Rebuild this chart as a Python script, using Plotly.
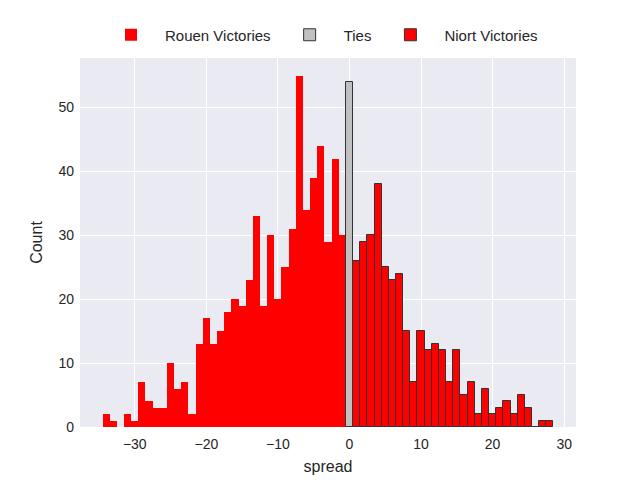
import plotly.graph_objects as go

# Data (spread -> count)
rouen_spread = list(range(-34, 0))
rouen_counts = [2, 1, 0, 2, 1, 7, 4, 3, 3, 10, 6, 7, 2, 13, 17, 13, 15, 18, 20, 19,
                23, 33, 19, 30, 20, 25, 31, 55, 34, 39, 44, 29, 42, 30]
tie_spread = [0]
tie_counts = [54]
niort_spread = list(range(1, 29))
niort_counts = [26, 29, 30, 38, 25, 23, 24, 15, 7, 15, 12, 13, 12, 7, 12, 5, 7, 2,
                6, 2, 3, 4, 2, 5, 3, 0, 1, 1]
x_ticks = [-30, -20, -10, 0, 10, 20, 30]
x_tick_text = ["\u221230", "\u221220", "\u221210", "0", "10", "20", "30"]
y_ticks = [0, 10, 20, 30, 40, 50]

FONT = "Liberation Sans, Arial, sans-serif"
TXT = "#262626"

fig = go.Figure()
fig.add_trace(go.Bar(x=rouen_spread, y=rouen_counts, width=1, name="Rouen Victories",
                     marker=dict(color="#ff0000", line=dict(width=0))))
fig.add_trace(go.Bar(x=tie_spread, y=tie_counts, width=1, name="Ties",
                     marker=dict(color="#c0c0c0", line=dict(color="#333333", width=1))))
fig.add_trace(go.Bar(x=niort_spread, y=niort_counts, width=1, name="Niort Victories",
                     marker=dict(color="#ff0000", line=dict(color="#333333", width=1))))

fig.update_layout(
    width=640, height=480,
    margin=dict(l=80, r=64, t=57.6, b=52.8, autoexpand=False),
    paper_bgcolor="white", plot_bgcolor="#EAEAF2",
    barmode="overlay", bargap=0,
    font=dict(family=FONT, color=TXT, size=14),
    showlegend=True,
    legend=dict(orientation="h", x=0.5, xanchor="center", xref="container",
                y=1 - 35 / 480, yanchor="middle", yref="container",
                font=dict(size=15, color=TXT), bgcolor="rgba(0,0,0,0)",
                traceorder="normal", itemwidth=58),
    xaxis=dict(range=[-37.65, 31.65], tickvals=x_ticks, ticktext=x_tick_text,
               showgrid=True, gridcolor="white", gridwidth=1, zeroline=False,
               automargin=False, ticklabelstandoff=7,
               title=dict(text="spread", font=dict(size=16), standoff=9),
               tickfont=dict(size=14), ticks="", showline=False),
    yaxis=dict(range=[0, 57.75], tickvals=y_ticks,
               showgrid=True, gridcolor="white", gridwidth=1, zeroline=False,
               automargin=False, ticklabelstandoff=5,
               title=dict(text="Count", font=dict(size=16), standoff=11),
               tickfont=dict(size=14), ticks="", showline=False),
)

fig.write_html("out.html", config={"displayModeBar": False},
               post_script="document.body.style.margin='0px';document.body.style.padding='0px';")
